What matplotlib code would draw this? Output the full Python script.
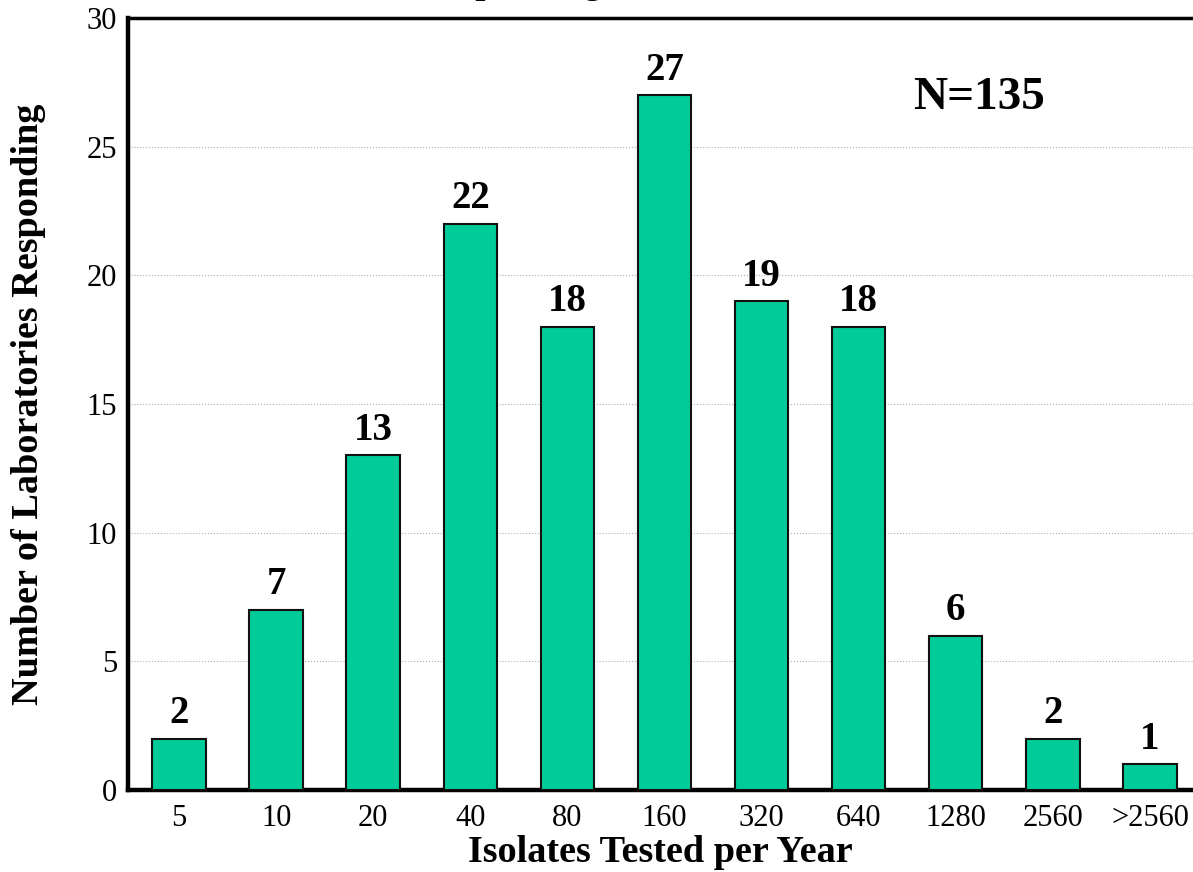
import matplotlib
matplotlib.use("Agg")
import matplotlib.pyplot as plt

categories = ["5", "10", "20", "40", "80", "160", "320", "640", "1280", "2560", ">2560"]
labs = [2, 7, 13, 22, 18, 27, 19, 18, 6, 2, 1]
y_ticks = [0, 5, 10, 15, 20, 25, 30]

plt.rcParams["font.family"] = ["Liberation Serif", "DejaVu Serif"]

fig = plt.figure(figsize=(11.93, 8.72), dpi=100)
ax = fig.add_axes([128 / 1193, 1 - 790 / 872, (1193 - 128) / 1193, (790 - 18) / 872])

x = list(range(len(categories)))
ax.bar(x, labs, width=0.55, color="#00CC99", edgecolor="#111111", linewidth=1.5, zorder=3)

for xi, v in zip(x, labs):
    ax.text(xi, v + 0.25, str(v), ha="center", va="bottom", fontsize=28, fontweight="bold", zorder=4)

ax.set_xlim(-0.525, 10.443)
ax.set_ylim(0, 30)
ax.set_yticks(y_ticks)
ax.set_xticks(x)
ax.set_xticklabels(categories)
ax.tick_params(axis="x", length=0, labelsize=22, pad=10)
ax.tick_params(axis="y", length=0, labelsize=22, pad=8)
ax.grid(axis="y", linestyle=":", color="#b0b0b0", linewidth=0.8, zorder=0)

for side in ("left", "bottom"):
    ax.spines[side].set_linewidth(3.2)
ax.spines["top"].set_linewidth(2.5)
ax.spines["right"].set_visible(False)

ax.text(8.24, 26.9, "N=135", ha="center", va="center", fontsize=34, fontweight="bold")

ax.set_xlabel("Isolates Tested per Year", fontsize=27.5, fontweight="bold", va="center")
ax.xaxis.set_label_coords(0.4995, -0.0816)
ax.set_ylabel("Number of Laboratories Responding", fontsize=27.5, fontweight="bold", va="center")
ax.yaxis.set_label_coords(-0.093, 0.5)

# Chart heading sits above the page edge; only its descenders reach the canvas
fig.text(0.34, 1.0 + 7 / 872, "Laboratories Responding", ha="center", va="baseline",
         fontsize=26, fontweight="bold")

fig.savefig("out.png", dpi=100)
